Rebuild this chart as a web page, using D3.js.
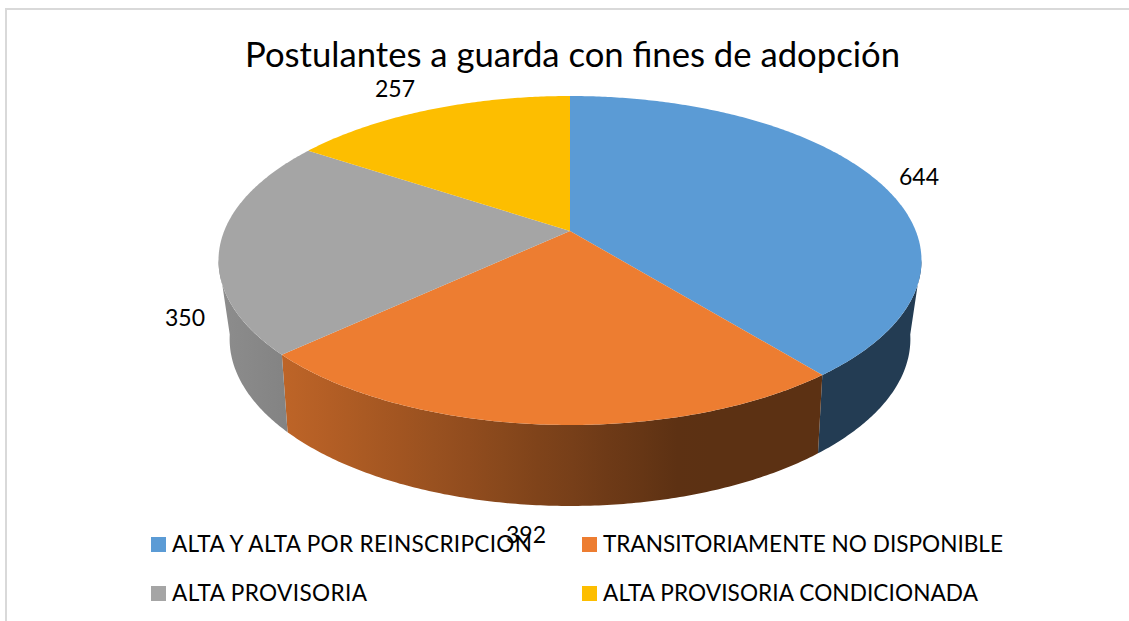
<!DOCTYPE html>
<html>
<head>
<meta charset="utf-8">
<script src="https://cdn.jsdelivr.net/npm/d3@7"></script>
<style>
  html, body { margin: 0; padding: 0; background: #fff; overflow: hidden; }
  text { font-family: Lato, "Open Sans", sans-serif; fill: #000; }
</style>
</head>
<body>
<div id="chart"></div>
<script>
const chartTitle = 'Postulantes a guarda con fines de adopción';
const categories = ['ALTA Y ALTA POR REINSCRIPCION', 'TRANSITORIAMENTE NO DISPONIBLE', 'ALTA PROVISORIA', 'ALTA PROVISORIA CONDICIONADA'];
const values = [644, 392, 350, 257];
const sliceColors = ['#5B9BD5', '#ED7D31', '#A5A5A5', '#FDBE00'];

const width = 1129;
const height = 621;

// Perspective projection of a circle, fitted on the picture
const topRim = { cx: 570, cy: 231, a: 345.8, b: 159.2, p: 0.1793 };
const baseRim = { cx: 570, cy: 305.6, a: 333.5, b: 160.3, p: 0.2 };

function project(rim, angle) {
    const w = 1 + rim.p * Math.cos(angle);
    return [rim.cx + rim.a * Math.sin(angle) / w, rim.cy - rim.b * Math.cos(angle) / w];
}

function rimPoints(rim, start, end) {
    const n = Math.max(2, Math.ceil((end - start) / 0.01));
    return d3.range(n + 1).map(i => project(rim, start + (end - start) * i / n));
}

const svg = d3.select('#chart')
    .append('svg')
    .attr('width', width)
    .attr('height', height);

// Frame
svg.append('rect')
    .attr('x', 6)
    .attr('y', 9)
    .attr('width', 1140)
    .attr('height', 640)
    .attr('fill', '#fff')
    .attr('stroke', '#d9d9d9')
    .attr('stroke-width', 2);

const color = d3.scaleOrdinal().domain(categories).range(sliceColors);

const pie = d3.pie().sort(null).value(d => d.value);
const slices = pie(categories.map((name, i) => ({ name, value: values[i] })));

// Side wall shading goes dark from left to right
const shade = d3.scaleLinear()
    .domain([225, 285, 680])
    .range([0.85, 0.8, 0.39])
    .clamp(true);

const defs = svg.append('defs');
slices.forEach((d, i) => {
    const grad = defs.append('linearGradient')
        .attr('id', 'wall' + i)
        .attr('gradientUnits', 'userSpaceOnUse')
        .attr('x1', 225).attr('x2', 920)
        .attr('y1', 0).attr('y2', 0);
    d3.range(0, 1.001, 0.05).forEach(t => {
        const k = shade(225 + t * 695);
        const c = d3.rgb(color(d.data.name));
        grad.append('stop')
            .attr('offset', t)
            .attr('stop-color', d3.rgb(c.r * k, c.g * k, c.b * k).formatHex());
    });
});

// Only the near part of the rim shows a wall
const wallStart = 100 * Math.PI / 180;
const wallEnd = 260 * Math.PI / 180;
const line = d3.line();

svg.append('g')
    .selectAll('path')
    .data(slices.filter(d => d.endAngle > wallStart && d.startAngle < wallEnd))
    .enter()
    .append('path')
    .attr('d', d => {
        const a = Math.max(d.startAngle, wallStart);
        const b = Math.min(d.endAngle, wallEnd);
        return line(rimPoints(topRim, a, b).concat(rimPoints(baseRim, a, b).reverse())) + 'Z';
    })
    .attr('fill', d => `url(#wall${d.index})`);

// Top face
svg.append('g')
    .selectAll('path')
    .data(slices)
    .enter()
    .append('path')
    .attr('d', d => line([[topRim.cx, topRim.cy]].concat(rimPoints(topRim, d.startAngle, d.endAngle))) + 'Z')
    .attr('fill', d => color(d.data.name));

// Title
svg.append('text')
    .attr('x', 572.5)
    .attr('y', 67)
    .attr('text-anchor', 'middle')
    .attr('textLength', 655)
    .attr('lengthAdjust', 'spacingAndGlyphs')
    .style('font-size', '35px')
    .text(chartTitle);

// Value labels
const labelPos = [[919, 177], [526, 535], [185, 318], [395, 89]];
svg.append('g')
    .selectAll('text')
    .data(slices)
    .enter()
    .append('text')
    .attr('x', (d, i) => labelPos[i][0])
    .attr('y', (d, i) => labelPos[i][1])
    .attr('dy', '0.35em')
    .attr('text-anchor', 'middle')
    .style('font-size', '23px')
    .text(d => d.value);

// Legend
const legendPos = [[151, 537], [582, 537], [151, 586], [582, 586]];
const legendTextWidth = [360, 400, 195, 375];
const legend = svg.append('g')
    .selectAll('g')
    .data(categories)
    .enter()
    .append('g')
    .attr('transform', (d, i) => `translate(${legendPos[i][0]},${legendPos[i][1]})`);
legend.append('rect')
    .attr('width', 15)
    .attr('height', 15)
    .attr('fill', d => color(d));
legend.append('text')
    .attr('x', 21)
    .attr('y', 15)
    .attr('textLength', (d, i) => legendTextWidth[i])
    .attr('lengthAdjust', 'spacing')
    .style('font-size', '22.6px')
    .text(d => d);
</script>
</body>
</html>
